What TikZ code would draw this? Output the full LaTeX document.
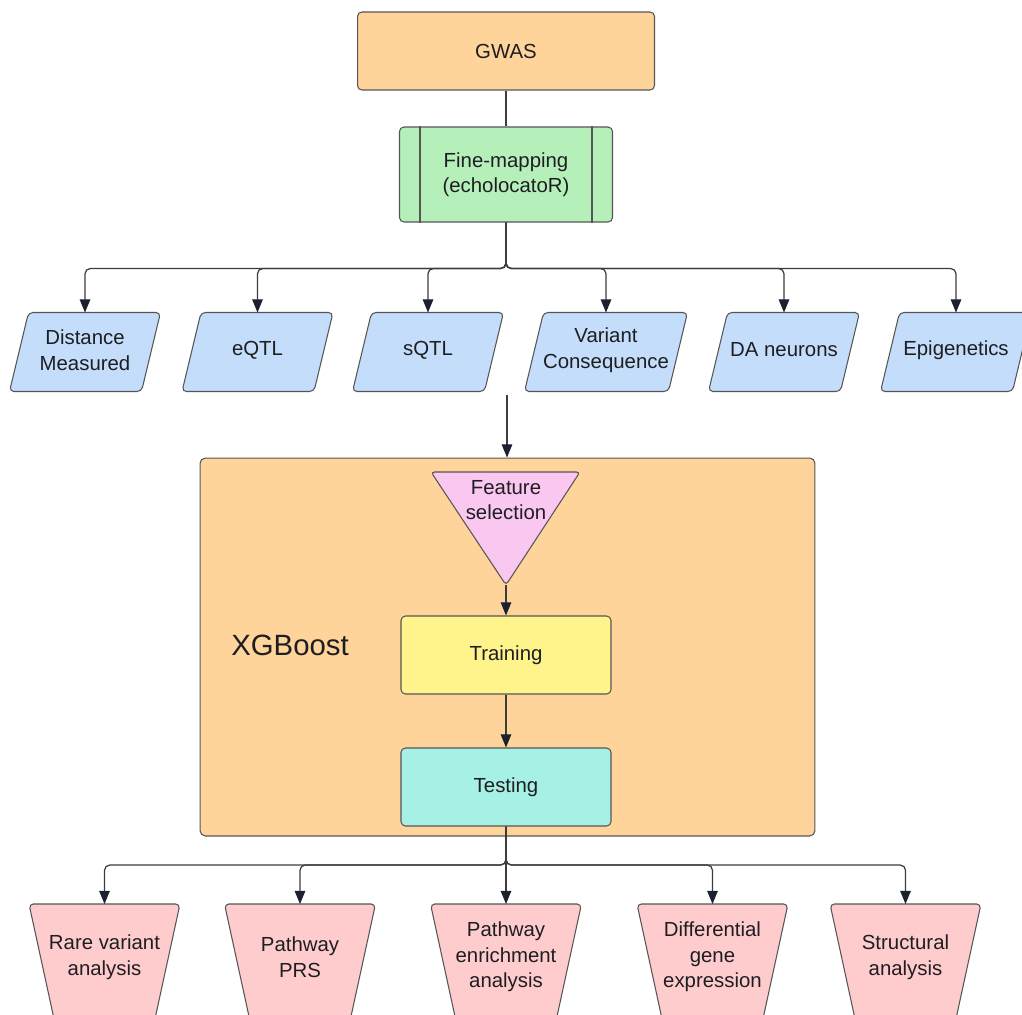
\documentclass[tikz,border=0pt]{standalone}
\usepackage{fontspec}
\setmainfont{Liberation Sans}
\definecolor{boxorange}{RGB}{254,212,154}
\definecolor{finegreen}{RGB}{181,240,186}
\definecolor{featblue}{RGB}{196,221,250}
\definecolor{featpink}{RGB}{249,199,240}
\definecolor{trainyellow}{RGB}{255,244,140}
\definecolor{testcyan}{RGB}{167,240,229}
\definecolor{outred}{RGB}{255,204,206}
\definecolor{edgegray}{RGB}{85,85,85}
\definecolor{linkgray}{RGB}{60,60,60}
\definecolor{tipnavy}{RGB}{28,33,48}
\definecolor{labeltext}{RGB}{30,30,34}
\usetikzlibrary{arrows.meta,positioning,backgrounds}

\begin{document}
\begin{tikzpicture}[x=0.02cm,y=-0.02cm,
    font=\fontsize{11.6}{14.5}\selectfont,
    box/.style={draw=edgegray,line width=0.6pt,rounded corners=2.5pt,
      align=center,text=labeltext,inner sep=2pt},
    shapeline/.style={draw=edgegray,line width=0.6pt,rounded corners=2.5pt},
    txt/.style={align=center,text=labeltext,inner sep=0pt},
    link/.style={draw=linkgray,line width=0.7pt,rounded corners=3pt},
    arr/.style={link,-{Triangle[length=7.5pt,width=6pt,color=tipnavy]}},
  ]
  \useasboundingbox (0,0) rectangle (1022,1015);

  % top of the pipeline
  \node[box,fill=boxorange,minimum width=5.94cm,minimum height=1.56cm] (gwas) at (506,51) {GWAS};
  \node[box,fill=finegreen,minimum width=4.26cm,minimum height=1.9cm] (fine) at (506,174.5)
    {Fine-mapping\\(echolocatoR)};
  \draw[edgegray,line width=0.6pt]
    ([xshift=0.42cm]fine.north west) -- ([xshift=0.42cm]fine.south west)
    ([xshift=-0.42cm]fine.north east) -- ([xshift=-0.42cm]fine.south east);
  \draw[link] (gwas.south) -- (fine.north);

  % annotation features
  \node[txt] (dist) at (85,350) {Distance\\Measured};
  \node[txt] (eqtl) at (257.5,350) {eQTL};
  \node[txt] (sqtl) at (428,350) {sQTL};
  \node[txt] (vcons) at (606,350) {Variant\\Consequence};
  \node[txt] (daneur) at (784,350) {DA neurons};
  \node[txt] (epi) at (956,350) {Epigenetics};
  \begin{scope}[on background layer]
    \foreach \t/\w in {dist/75.5,eqtl/75.5,sqtl/75.5,vcons/81.5,daneur/75.5,epi/75.5}
      \draw[shapeline,fill=featblue]
        ([shift={(-\w,41.5)}]\t.center) -- ([shift={(\w-19,41.5)}]\t.center)
        -- ([shift={(\w,-37.5)}]\t.center) -- ([shift={(19-\w,-37.5)}]\t.center) -- cycle;
  \end{scope}
  \foreach \t in {dist,eqtl,sqtl,vcons,daneur,epi}
    \draw[arr] (fine.south) -- ++(0,46) -| ([yshift=0.75cm]\t.center);

  % model block
  \coordinate (feed) at (507,395);
  \node[box,fill=boxorange,minimum width=12.3cm,minimum height=7.56cm,rounded corners=3pt] (xgb)
    at (507.5,647) {};
  \draw[arr] (feed) -- (feed |- xgb.north);
  \node[txt,font=\fontsize{16.7}{20}\selectfont] (xgblabel) at (290,645) {XGBoost};
  \draw[shapeline,fill=featpink,rounded corners=2pt]
    (431,472) -- (580,472) -- (506,585) coordinate (fstip) -- cycle;
  \node[txt] (fsel) at (506,500) {Feature\\selection};
  \node[box,fill=trainyellow,minimum width=4.2cm,minimum height=1.56cm] (train) at (506,655) {Training};
  \node[box,fill=testcyan,minimum width=4.2cm,minimum height=1.56cm] (test) at (506,787) {Testing};
  \draw[arr] (fstip) -- (fstip |- train.north);
  \draw[arr] (train) -- (test);

  % downstream analyses
  \node[txt] (rare) at (104.5,957) {Rare variant\\analysis};
  \node[txt] (prs) at (300,957) {Pathway\\PRS};
  \node[txt] (enrich) at (506,957) {Pathway\\enrichment\\analysis};
  \node[txt] (diffex) at (712.5,957) {Differential\\gene\\expression};
  \node[txt] (struct) at (905.5,957) {Structural\\analysis};
  \begin{scope}[on background layer]
    \foreach \t in {rare,prs,enrich,diffex,struct}
      \draw[shapeline,fill=outred]
        ([shift={(-75.5,-53)}]\t.center) -- ([shift={(75.5,-53)}]\t.center)
        -- ([shift={(45,87)}]\t.center) -- ([shift={(-45,87)}]\t.center) -- cycle;
  \end{scope}
  \coordinate (obus) at (506,865);
  \foreach \t in {rare,prs,diffex,struct}
    \draw[arr] (test.south) |- (obus) -| ([yshift=1.06cm]\t.center);
  \draw[arr] (test.south) -- ([yshift=1.06cm]enrich.center);
\end{tikzpicture}
\end{document}
